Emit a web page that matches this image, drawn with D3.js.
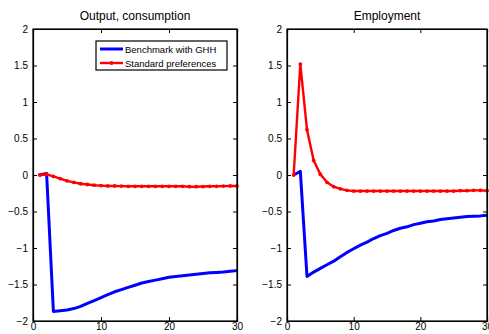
<!DOCTYPE html>
<html><head><meta charset="utf-8">
<script src="https://cdn.jsdelivr.net/npm/d3@7"></script>
<style>body{margin:0;background:#fff}svg{display:block;font-family:"Liberation Sans",Arial,sans-serif}</style>
</head><body><svg id="c" width="489" height="334"></svg>
<script>
const periods = d3.range(1, 31);
const outBench = [0,0.02,-1.87,-1.86,-1.85,-1.83,-1.80,-1.76,-1.72,-1.68,-1.64,-1.60,-1.57,-1.54,-1.51,-1.48,-1.46,-1.44,-1.42,-1.40,-1.39,-1.38,-1.37,-1.36,-1.35,-1.34,-1.335,-1.33,-1.32,-1.31];
const outStd = [0,0.01,-0.02,-0.05,-0.08,-0.10,-0.12,-0.13,-0.14,-0.145,-0.15,-0.15,-0.152,-0.155,-0.155,-0.155,-0.155,-0.155,-0.155,-0.155,-0.155,-0.155,-0.16,-0.16,-0.158,-0.155,-0.155,-0.152,-0.15,-0.15];
const empBench = [0,0.05,-1.39,-1.33,-1.28,-1.23,-1.18,-1.12,-1.06,-1.01,-0.96,-0.92,-0.87,-0.83,-0.80,-0.76,-0.73,-0.71,-0.68,-0.66,-0.64,-0.63,-0.61,-0.60,-0.59,-0.58,-0.57,-0.565,-0.56,-0.55];
const empStd = [0,1.52,0.62,0.20,0.01,-0.10,-0.16,-0.19,-0.21,-0.22,-0.22,-0.22,-0.22,-0.22,-0.22,-0.22,-0.22,-0.22,-0.22,-0.22,-0.22,-0.22,-0.22,-0.22,-0.22,-0.215,-0.215,-0.21,-0.21,-0.215];
const xTicks = [0,10,20,30];
const yTicks = [-2,-1.5,-1,-0.5,0,0.5,1,1.5,2];
const titles = ["Output, consumption","Employment"];
const legendLabels = ["Benchmark with GHH","Standard preferences"];
const colors = ["#0000ff","#ff0000"];

const svg = d3.select("#c");
const panels = [
  {x0:33, x1:237, bench:outBench, std:outStd, title:titles[0], legend:true},
  {x0:287, x1:487, bench:empBench, std:empStd, title:titles[1], legend:false}
];
const yTop = 29, yBot = 321;
const fmt = v => (v<0 ? "\u2212" : "") + String(Math.abs(v));

panels.forEach(p => {
  const x = d3.scaleLinear().domain([0,30]).range([p.x0,p.x1]);
  const y = d3.scaleLinear().domain([-2,2]).range([yBot,yTop]);
  const g = svg.append("g");
  const line = d3.line().x((d,i)=>x(periods[i])).y(d=>y(d));
  g.append("path").datum(p.bench).attr("d",line).attr("fill","none")
    .attr("stroke",colors[0]).attr("stroke-width",3).attr("stroke-linejoin","round");
  g.append("path").datum(p.std).attr("d",line).attr("fill","none")
    .attr("stroke",colors[1]).attr("stroke-width",2.4).attr("stroke-linejoin","round");
  g.selectAll("circle.m").data(p.std).join("circle")
    .attr("cx",(d,i)=>x(periods[i])).attr("cy",d=>y(d)).attr("r",1.9).attr("fill",colors[1]);
  g.append("g").attr("transform",`translate(0,${yBot})`)
    .call(d3.axisBottom(x).tickValues(xTicks).tickSize(-4).tickPadding(2).tickFormat(d3.format("d")));
  g.append("g").attr("transform",`translate(${p.x0},0)`)
    .call(d3.axisLeft(y).tickValues(yTicks).tickSize(-4).tickPadding(5).tickFormat(fmt));
  g.append("g").attr("transform",`translate(0,${yTop})`)
    .call(d3.axisTop(x).tickValues(xTicks).tickSize(-4).tickFormat(""));
  g.append("g").attr("transform",`translate(${p.x1},0)`)
    .call(d3.axisRight(y).tickValues(yTicks).tickSize(-4).tickFormat(""));
  g.selectAll(".domain").attr("stroke","#000").attr("stroke-width",1.2);
  g.selectAll(".tick line").attr("stroke","#000");
  g.selectAll(".tick text").attr("font-size",10).attr("fill","#000").attr("font-family","Liberation Sans, Arial, sans-serif");
  g.append("rect").attr("x",p.x0).attr("y",yTop).attr("width",p.x1-p.x0).attr("height",yBot-yTop)
    .attr("fill","none").attr("stroke","#000").attr("stroke-width",1.2);
  g.append("text").attr("x",(p.x0+p.x1)/2).attr("y",20).attr("text-anchor","middle")
    .attr("font-size",12).text(p.title);
  if (p.legend) {
    const lg = g.append("g");
    lg.append("rect").attr("x",96).attr("y",41).attr("width",131).attr("height",29)
      .attr("fill","#fff").attr("stroke","#000").attr("stroke-width",1.2);
    legendLabels.forEach((t,i)=>{
      const yy = 49 + i*14;
      lg.append("line").attr("x1",100).attr("x2",123).attr("y1",yy).attr("y2",yy)
        .attr("stroke",colors[i]).attr("stroke-width",i===0?3:2.4);
      if (i===1) lg.append("circle").attr("cx",111.5).attr("cy",yy).attr("r",1.9).attr("fill",colors[1]);
      lg.append("text").attr("x",125).attr("y",yy+3.5).attr("font-size",9.5).text(t);
    });
  }
});
</script></body></html>
